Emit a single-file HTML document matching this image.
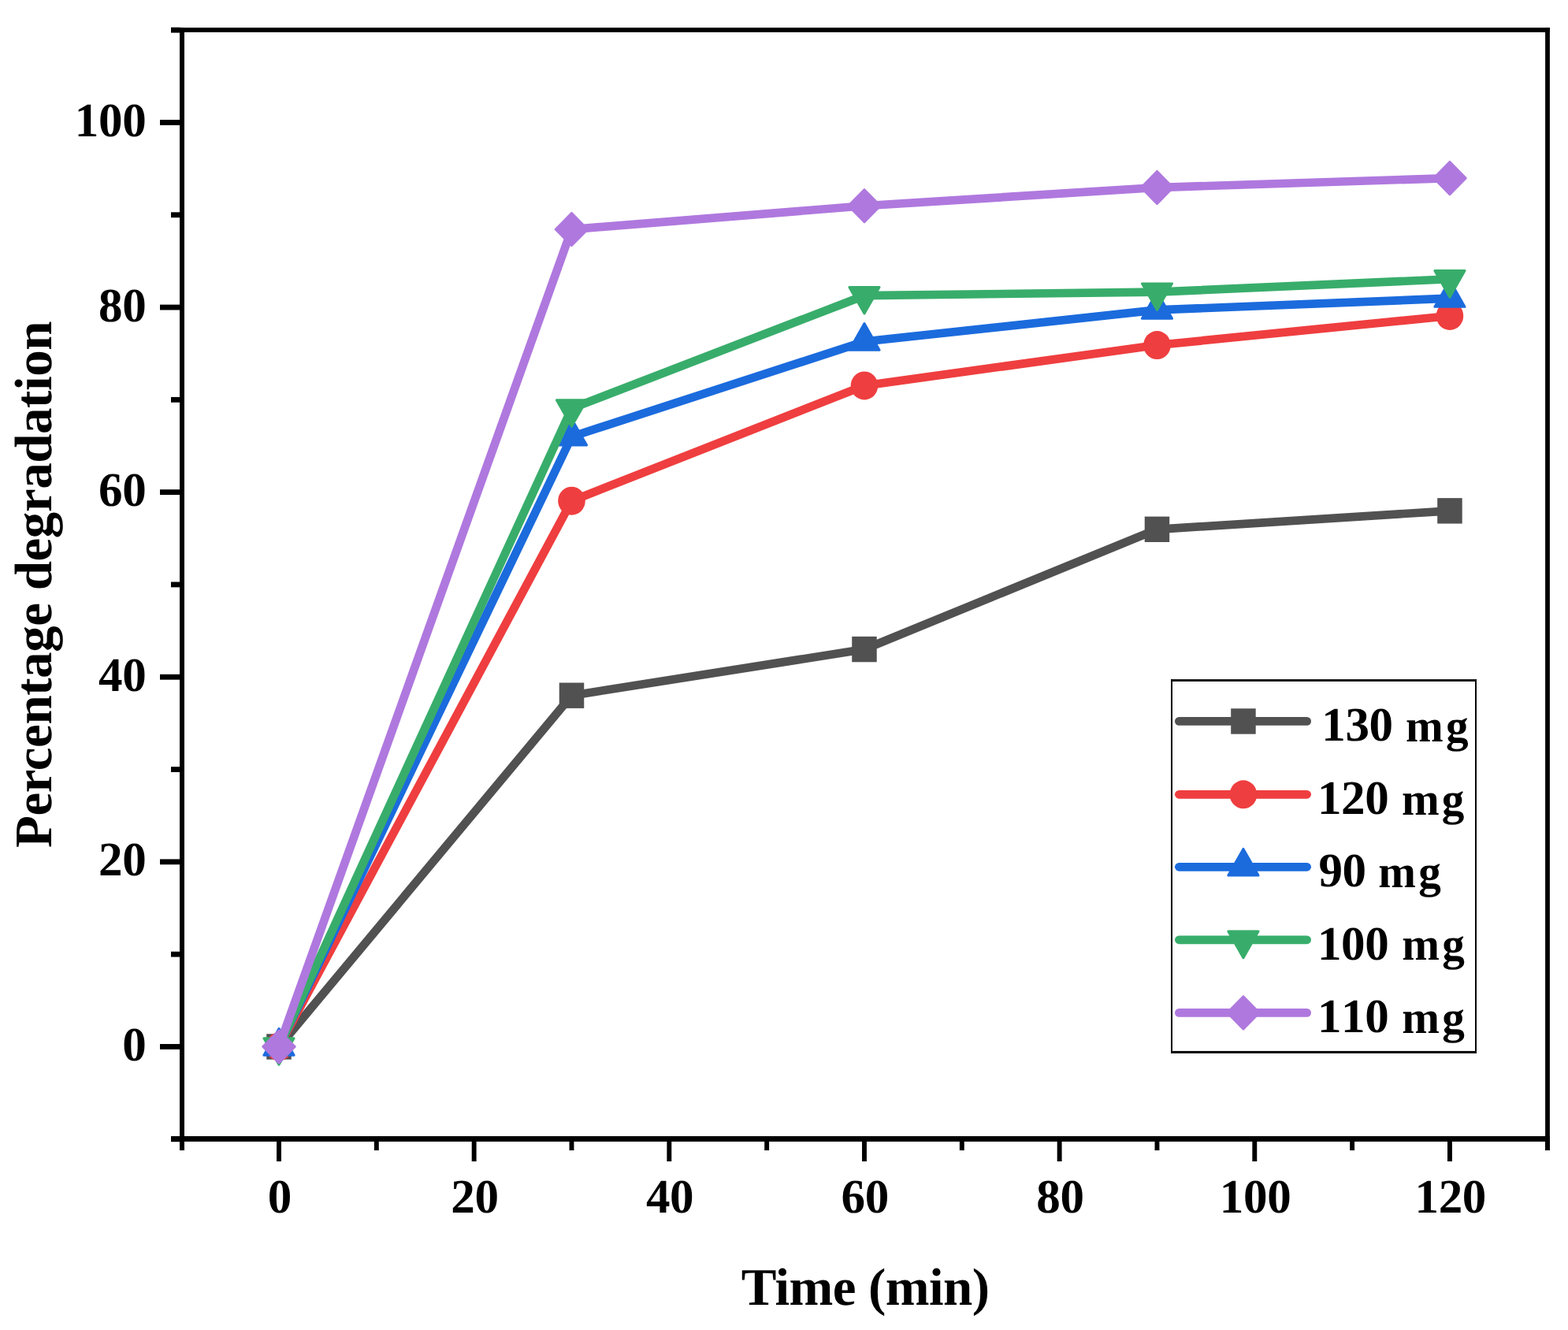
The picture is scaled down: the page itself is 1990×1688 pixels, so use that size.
<!DOCTYPE html>
<html><head><meta charset="utf-8"><style>
html,body{margin:0;padding:0;background:#fff;}
svg{display:block;}
</style></head><body>
<svg width="1990" height="1688" viewBox="0 0 1990 1688" text-rendering="geometricPrecision">
<rect width="1990" height="1688" fill="#fff"/>
<g fill="#000">
<rect x="217" y="35.1" width="1749.9" height="5.8"/>
<rect x="1961.1" y="35.1" width="5.8" height="1424.9"/>
<rect x="228" y="35.1" width="6" height="1424.9"/>
<rect x="217" y="1442" width="1749.9" height="6.9"/>
<rect x="217" y="1442.33" width="12" height="6.83"/>
<rect x="203" y="1325.03" width="26" height="6.83"/>
<rect x="217" y="1207.73" width="12" height="6.83"/>
<rect x="203" y="1090.43" width="26" height="6.83"/>
<rect x="217" y="973.13" width="12" height="6.83"/>
<rect x="203" y="855.83" width="26" height="6.83"/>
<rect x="217" y="738.53" width="12" height="6.83"/>
<rect x="203" y="621.23" width="26" height="6.83"/>
<rect x="217" y="503.93" width="12" height="6.83"/>
<rect x="203" y="386.63" width="26" height="6.83"/>
<rect x="217" y="269.33" width="12" height="6.83"/>
<rect x="203" y="152.03" width="26" height="6.83"/>
<rect x="217" y="34.73" width="12" height="6.83"/>
<rect x="228.05" y="1448" width="5.9" height="12"/>
<rect x="351.05" y="1448" width="5.9" height="26"/>
<rect x="474.88" y="1448" width="5.9" height="12"/>
<rect x="598.71" y="1448" width="5.9" height="26"/>
<rect x="722.54" y="1448" width="5.9" height="12"/>
<rect x="846.37" y="1448" width="5.9" height="26"/>
<rect x="970.20" y="1448" width="5.9" height="12"/>
<rect x="1094.03" y="1448" width="5.9" height="26"/>
<rect x="1217.86" y="1448" width="5.9" height="12"/>
<rect x="1341.69" y="1448" width="5.9" height="26"/>
<rect x="1465.52" y="1448" width="5.9" height="12"/>
<rect x="1589.35" y="1448" width="5.9" height="26"/>
<rect x="1713.18" y="1448" width="5.9" height="12"/>
<rect x="1837.01" y="1448" width="5.9" height="26"/>
<rect x="1961.05" y="1448" width="5.9" height="12"/>
</g>
<polyline points="354.000,1328.45 725.490,882.71 1096.980,824.06 1468.470,671.80 1839.960,648.34" fill="none" stroke="#515151" stroke-width="10.7" stroke-linejoin="miter"/>
<rect x="338.25" y="1312.25" width="31.5" height="32.4" fill="#515151"/>
<rect x="709.74" y="866.51" width="31.5" height="32.4" fill="#515151"/>
<rect x="1081.23" y="807.86" width="31.5" height="32.4" fill="#515151"/>
<rect x="1452.72" y="655.60" width="31.5" height="32.4" fill="#515151"/>
<rect x="1824.21" y="632.14" width="31.5" height="32.4" fill="#515151"/>
<polyline points="354.000,1328.45 725.490,635.68 1096.980,489.40 1468.470,438.03 1839.960,400.96" fill="none" stroke="#EF3E3F" stroke-width="10.7" stroke-linejoin="miter"/>
<ellipse cx="354.00" cy="1328.45" rx="17.3" ry="18" fill="#EF3E3F"/>
<ellipse cx="725.49" cy="635.68" rx="17.3" ry="18" fill="#EF3E3F"/>
<ellipse cx="1096.98" cy="489.40" rx="17.3" ry="18" fill="#EF3E3F"/>
<ellipse cx="1468.47" cy="438.03" rx="17.3" ry="18" fill="#EF3E3F"/>
<ellipse cx="1839.96" cy="400.96" rx="17.3" ry="18" fill="#EF3E3F"/>
<polyline points="354.000,1328.45 725.490,554.27 1096.980,433.45 1468.470,393.45 1839.960,378.67" fill="none" stroke="#1B6BDD" stroke-width="10.7" stroke-linejoin="miter"/>
<polygon points="354.00,1305.58 373.11,1339.15 334.89,1339.15" fill="#1B6BDD" stroke="#1B6BDD" stroke-width="3.0" stroke-linejoin="round"/>
<polygon points="725.49,531.40 744.60,564.97 706.38,564.97" fill="#1B6BDD" stroke="#1B6BDD" stroke-width="3.0" stroke-linejoin="round"/>
<polygon points="1096.98,410.58 1116.09,444.15 1077.87,444.15" fill="#1B6BDD" stroke="#1B6BDD" stroke-width="3.0" stroke-linejoin="round"/>
<polygon points="1468.47,370.58 1487.58,404.15 1449.36,404.15" fill="#1B6BDD" stroke="#1B6BDD" stroke-width="3.0" stroke-linejoin="round"/>
<polygon points="1839.96,355.80 1859.07,389.37 1820.85,389.37" fill="#1B6BDD" stroke="#1B6BDD" stroke-width="3.0" stroke-linejoin="round"/>
<polyline points="354.000,1328.45 725.490,518.38 1096.980,375.15 1468.470,370.58 1839.960,354.27" fill="none" stroke="#38AD6B" stroke-width="10.7" stroke-linejoin="miter"/>
<polygon points="354.00,1351.32 373.11,1317.75 334.89,1317.75" fill="#38AD6B" stroke="#38AD6B" stroke-width="3.0" stroke-linejoin="round"/>
<polygon points="725.49,541.24 744.60,507.68 706.38,507.68" fill="#38AD6B" stroke="#38AD6B" stroke-width="3.0" stroke-linejoin="round"/>
<polygon points="1096.98,398.02 1116.09,364.45 1077.87,364.45" fill="#38AD6B" stroke="#38AD6B" stroke-width="3.0" stroke-linejoin="round"/>
<polygon points="1468.47,393.45 1487.58,359.88 1449.36,359.88" fill="#38AD6B" stroke="#38AD6B" stroke-width="3.0" stroke-linejoin="round"/>
<polygon points="1839.96,377.14 1859.07,343.57 1820.85,343.57" fill="#38AD6B" stroke="#38AD6B" stroke-width="3.0" stroke-linejoin="round"/>
<polyline points="354.000,1328.45 725.490,291.05 1096.980,261.25 1468.470,238.03 1839.960,226.06" fill="none" stroke="#AF78DE" stroke-width="10.7" stroke-linejoin="miter"/>
<polygon points="354.00,1307.47 374.61,1328.45 354.00,1349.43 333.39,1328.45" fill="#AF78DE" stroke="#AF78DE" stroke-width="2.4" stroke-linejoin="round"/>
<polygon points="725.49,270.06 746.10,291.05 725.49,312.03 704.88,291.05" fill="#AF78DE" stroke="#AF78DE" stroke-width="2.4" stroke-linejoin="round"/>
<polygon points="1096.98,240.27 1117.59,261.25 1096.98,282.24 1076.37,261.25" fill="#AF78DE" stroke="#AF78DE" stroke-width="2.4" stroke-linejoin="round"/>
<polygon points="1468.47,217.04 1489.08,238.03 1468.47,259.01 1447.86,238.03" fill="#AF78DE" stroke="#AF78DE" stroke-width="2.4" stroke-linejoin="round"/>
<polygon points="1839.96,205.08 1860.57,226.06 1839.96,247.05 1819.35,226.06" fill="#AF78DE" stroke="#AF78DE" stroke-width="2.4" stroke-linejoin="round"/>
<g font-family="Liberation Serif, serif" font-weight="bold" font-size="61.1" letter-spacing="-0.35" style="font-kerning:none" fill="#000">
<text x="185.4" y="1346.05" text-anchor="end">0</text>
<text x="185.4" y="1111.45" text-anchor="end">20</text>
<text x="185.4" y="876.85" text-anchor="end">40</text>
<text x="185.4" y="642.25" text-anchor="end">60</text>
<text x="185.4" y="407.65" text-anchor="end">80</text>
<text x="185.4" y="173.05" text-anchor="end">100</text>
<text x="354.80" y="1538.7" text-anchor="middle">0</text>
<text x="602.46" y="1538.7" text-anchor="middle">20</text>
<text x="850.12" y="1538.7" text-anchor="middle">40</text>
<text x="1097.78" y="1538.7" text-anchor="middle">60</text>
<text x="1345.44" y="1538.7" text-anchor="middle">80</text>
<text x="1593.10" y="1538.7" text-anchor="middle">100</text>
<text x="1840.76" y="1538.7" text-anchor="middle">120</text>
</g>
<text x="1098" y="1655.8" text-anchor="middle" font-family="Liberation Serif, serif" font-weight="bold" font-size="67" letter-spacing="-0.6">Time (min)</text>
<text transform="translate(65,742) rotate(-90)" text-anchor="middle" font-family="Liberation Serif, serif" font-weight="bold" font-size="67" letter-spacing="-0.45">Percentage degradation</text>
<g fill="#000"><rect x="1486" y="862.1" width="388" height="2.8"/><rect x="1486" y="1333.9" width="388" height="3"/><rect x="1486" y="862.1" width="2" height="474.8"/><rect x="1872" y="862.1" width="2" height="474.8"/></g>
<line x1="1496.4" y1="915.44" x2="1658.6" y2="915.44" stroke="#515151" stroke-width="10.8" stroke-linecap="round"/>
<rect x="1562.20" y="899.24" width="31.5" height="32.4" fill="#515151"/>
<text x="1677.20" y="940.39" font-family="Liberation Serif, serif" font-weight="bold" font-size="61.1" letter-spacing="-0.35" style="font-kerning:none">130 </text>
<text transform="translate(1784.07,940.74) scale(0.915,0.93)" font-family="Liberation Serif, serif" font-weight="bold" font-size="62.6" letter-spacing="3.45" style="font-kerning:none">mg</text>
<line x1="1496.4" y1="1008.3" x2="1658.6" y2="1008.3" stroke="#EF3E3F" stroke-width="10.8" stroke-linecap="round"/>
<ellipse cx="1577.95" cy="1008.30" rx="17.3" ry="18" fill="#EF3E3F"/>
<text x="1671.90" y="1033.25" font-family="Liberation Serif, serif" font-weight="bold" font-size="61.1" letter-spacing="-0.35" style="font-kerning:none">120 </text>
<text transform="translate(1778.97,1033.60) scale(0.915,0.93)" font-family="Liberation Serif, serif" font-weight="bold" font-size="62.6" letter-spacing="3.45" style="font-kerning:none">mg</text>
<line x1="1496.4" y1="1100.3" x2="1658.6" y2="1100.3" stroke="#1B6BDD" stroke-width="10.8" stroke-linecap="round"/>
<polygon points="1577.95,1077.43 1597.06,1111.00 1558.84,1111.00" fill="#1B6BDD" stroke="#1B6BDD" stroke-width="3.0" stroke-linejoin="round"/>
<text x="1673.40" y="1125.25" font-family="Liberation Serif, serif" font-weight="bold" font-size="61.1" letter-spacing="-0.35" style="font-kerning:none">90 </text>
<text transform="translate(1749.27,1125.60) scale(0.915,0.93)" font-family="Liberation Serif, serif" font-weight="bold" font-size="62.6" letter-spacing="3.45" style="font-kerning:none">mg</text>
<line x1="1496.4" y1="1192.8" x2="1658.6" y2="1192.8" stroke="#38AD6B" stroke-width="10.8" stroke-linecap="round"/>
<polygon points="1577.95,1215.67 1597.06,1182.10 1558.84,1182.10" fill="#38AD6B" stroke="#38AD6B" stroke-width="3.0" stroke-linejoin="round"/>
<text x="1671.90" y="1217.75" font-family="Liberation Serif, serif" font-weight="bold" font-size="61.1" letter-spacing="-0.35" style="font-kerning:none">100 </text>
<text transform="translate(1779.27,1218.10) scale(0.915,0.93)" font-family="Liberation Serif, serif" font-weight="bold" font-size="62.6" letter-spacing="3.45" style="font-kerning:none">mg</text>
<line x1="1496.4" y1="1285.4" x2="1658.6" y2="1285.4" stroke="#AF78DE" stroke-width="10.8" stroke-linecap="round"/>
<polygon points="1577.95,1264.42 1598.56,1285.40 1577.95,1306.38 1557.34,1285.40" fill="#AF78DE" stroke="#AF78DE" stroke-width="2.4" stroke-linejoin="round"/>
<text x="1671.90" y="1310.35" font-family="Liberation Serif, serif" font-weight="bold" font-size="61.1" letter-spacing="-0.35" style="font-kerning:none">110 </text>
<text transform="translate(1779.27,1310.70) scale(0.915,0.93)" font-family="Liberation Serif, serif" font-weight="bold" font-size="62.6" letter-spacing="3.45" style="font-kerning:none">mg</text>
</svg>
</body></html>
